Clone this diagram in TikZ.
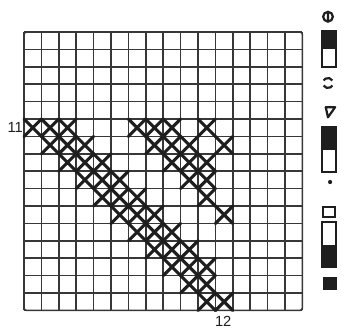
\documentclass[tikz,border=0pt]{standalone}
\usepackage{fontspec}
\setmainfont{Liberation Sans}
\definecolor{inkGrid}{RGB}{55, 55, 55}
\definecolor{inkStitch}{RGB}{30, 30, 30}

\begin{document}
\begin{tikzpicture}[
      x=0.5cm, y=0.5cm,
      gridline/.style={draw=inkGrid, line width=1.3pt},
      stitch/.style={draw=inkStitch, line width=2.5pt, line cap=round},
      keybox/.style={draw=inkStitch, line width=1.5pt},
      keysign/.style={draw=inkStitch, line width=1.8pt},
      keyfill/.style={fill=inkStitch},
      rowlabel/.style={font=\fontsize{12pt}{14pt}\selectfont, inner sep=0pt, text=inkStitch}
  ]
      \useasboundingbox (-1.379, -1.356) rectangle (18.39, 17.84);

      % CHART GRID
      \draw[gridline] (0, 0) grid[step=1] (16, 16);
      \draw[gridline, rounded corners=2pt] (0, 0) rectangle (16, 16);

      % CROSS STITCHES (row from top / columns)
      \foreach \r/\cs in {5/{0,1,2,6,7,8,10}, 6/{1,2,3,7,8,9,11}, 7/{2,3,4,8,9,10}, 8/{3,4,5,9,10},
                          9/{4,5,6,10}, 10/{5,6,7,11}, 11/{6,7,8}, 12/{7,8,9}, 13/{8,9,10},
                          14/{9,10}, 15/{10,11}}
        \foreach \c in \cs
          \draw[stitch] (\c, 15-\r) -- ++(1, 1) (\c, 16-\r) -- ++(1, -1);

      % ROW / COLUMN NUMBERS
      \node[rowlabel, anchor=east] (row11) at (-0.05, 10.5) {11};
      \node[rowlabel, anchor=north] (col12) at (11.45, -0.3) {12};

      % KEY
      \draw[keysign] (17.47, 16.88) circle (0.28) (17.47, 17.22) -- (17.47, 16.54);
      \fill[keyfill] (17.13, 16.06) rectangle (17.93, 15.02);
      \draw[keybox] (17.13, 14.0) rectangle (17.93, 16.06);

      \draw[keysign] (17.47, 13.07) ++(30:0.29) arc (30:150:0.29)
                     (17.47, 13.07) ++(210:0.29) arc (210:330:0.29);

      \draw[keysign, line join=round] (17.34, 11.68) -- (17.88, 11.68) -- (17.47, 11.1) -- cycle;
      \fill[keyfill] (17.13, 10.54) rectangle (17.93, 9.22);
      \draw[keybox] (17.13, 7.95) rectangle (17.93, 10.54);
      \fill[keyfill] (17.59, 7.38) circle (0.12);

      \draw[keysign] (17.2, 5.39) rectangle (17.87, 5.96);
      \fill[keyfill] (17.13, 3.76) rectangle (17.93, 2.49);
      \draw[keybox] (17.13, 2.49) rectangle (17.93, 5.08);
      \fill[keyfill] (17.17, 1.17) rectangle (17.97, 1.92);
  \end{tikzpicture}
\end{document}
